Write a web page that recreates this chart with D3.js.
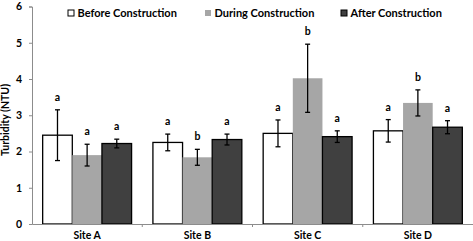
<!DOCTYPE html>
<html>
<head>
<meta charset="utf-8">
<script src="https://cdn.jsdelivr.net/npm/d3@7/dist/d3.min.js"></script>
<style>
  body { margin: 0; background: #fff; }
  svg { display: block; font-family: Lato, "Open Sans", sans-serif; font-weight: 700; }
</style>
</head>
<body>
<div id="chart"></div>
<script>
// data
const sites = ['Site A', 'Site B', 'Site C', 'Site D'];
const phases = ['Before Construction', 'During Construction', 'After Construction'];
const before = [2.45, 2.25, 2.50, 2.57];
const during = [1.90, 1.84, 4.02, 3.34];
const after = [2.22, 2.33, 2.41, 2.67];
const beforeErr = [0.70, 0.23, 0.37, 0.31];
const duringErr = [0.30, 0.22, 0.94, 0.36];
const afterErr = [0.12, 0.15, 0.16, 0.18];
const beforeSig = ['a', 'a', 'a', 'a'];
const duringSig = ['a', 'b', 'b', 'b'];
const afterSig = ['a', 'a', 'a', 'a'];
const yTicks = [0, 1, 2, 3, 4, 5, 6];

const width = 473, height = 241;
const margin = { top: 6.5, right: 0, bottom: 17, left: 32 };

const svg = d3.select('#chart').append('svg')
    .attr('width', width)
    .attr('height', height);

const x = d3.scaleBand()
    .domain(sites)
    .range([margin.left, width - margin.right])
    .paddingInner(0)
    .paddingOuter(0);

const xInner = d3.scaleBand()
    .domain(phases)
    .range([0, x.bandwidth()])
    .paddingOuter(0.36)
    .paddingInner(0);

const y = d3.scaleLinear()
    .domain([0, 6])
    .range([height - margin.bottom, margin.top]);

const fills = ['#ffffff', '#a6a6a6', '#404040'];
const strokes = ['#000000', 'none', '#000000'];

const values = [before, during, after];
const errs = [beforeErr, duringErr, afterErr];
const sigs = [beforeSig, duringSig, afterSig];

const rows = [];
sites.forEach((s, i) => {
    phases.forEach((p, j) => {
        rows.push({ site: s, phase: p, k: j, v: values[j][i], e: errs[j][i], sig: sigs[j][i] });
    });
});

// bars
svg.append('g').selectAll('rect')
    .data(rows)
    .enter().append('rect')
    .attr('x', d => x(d.site) + xInner(d.phase))
    .attr('y', d => y(d.v))
    .attr('width', xInner.bandwidth())
    .attr('height', d => y(0) - y(d.v))
    .attr('fill', d => fills[d.k])
    .attr('stroke', d => strokes[d.k])
    .attr('stroke-width', 1.3);

// axes
const yAxis = svg.append('g')
    .attr('transform', `translate(${margin.left},0)`)
    .call(d3.axisLeft(y).tickValues(yTicks).tickSize(3).tickPadding(7).tickFormat(d3.format('d')));
yAxis.selectAll('text').style('font-size', '10.5px').style('font-family', 'Lato, sans-serif').style('font-weight', 700).attr('fill', '#000');
yAxis.select('.domain').attr('stroke', '#8c8c8c');
yAxis.selectAll('.tick line').attr('stroke', '#8c8c8c');

const xAxis = svg.append('g')
    .attr('transform', `translate(0,${y(0)})`)
    .call(d3.axisBottom(x).tickSize(0).tickPadding(8));
xAxis.select('.domain').attr('stroke', '#8c8c8c');
xAxis.selectAll('text').style('font-size', '10.5px').style('font-family', 'Lato, sans-serif').style('font-weight', 700).attr('fill', '#000');

// category separators
svg.append('g').selectAll('line')
    .data(sites.slice(1))
    .enter().append('line')
    .attr('x1', d => x(d)).attr('x2', d => x(d))
    .attr('y1', y(0)).attr('y2', y(0) + 3)
    .attr('stroke', '#8c8c8c');

// error bars
const eb = svg.append('g').attr('stroke', '#000').attr('stroke-width', 1.3);
rows.forEach(d => {
    const cx = x(d.site) + xInner(d.phase) + xInner.bandwidth() / 2;
    eb.append('line').attr('x1', cx).attr('x2', cx).attr('y1', y(d.v + d.e)).attr('y2', y(d.v - d.e));
    eb.append('line').attr('x1', cx - 2.5).attr('x2', cx + 2.5).attr('y1', y(d.v + d.e)).attr('y2', y(d.v + d.e));
    eb.append('line').attr('x1', cx - 2.5).attr('x2', cx + 2.5).attr('y1', y(d.v - d.e)).attr('y2', y(d.v - d.e));
});

// significance letters
svg.append('g').selectAll('text')
    .data(rows)
    .enter().append('text')
    .attr('x', d => x(d.site) + xInner(d.phase) + xInner.bandwidth() / 2)
    .attr('y', d => y(d.v + d.e) - 9)
    .attr('text-anchor', 'middle')
    .style('font-size', '10.5px')
    .text(d => d.sig);

// y title
svg.append('text')
    .attr('transform', 'translate(9,120) rotate(-90)')
    .attr('text-anchor', 'middle')
    .style('font-size', '10.5px')
    .text('Turbidity (NTU)');

// legend
const legendX = [68, 205, 341];
const legend = svg.append('g');
phases.forEach((p, j) => {
    const g = legend.append('g').attr('transform', `translate(${legendX[j]},10)`);
    g.append('rect')
        .attr('width', 6).attr('height', 6)
        .attr('fill', fills[j])
        .attr('stroke', j === 1 ? 'none' : '#000')
        .attr('stroke-width', 1);
    g.append('text')
        .attr('x', 9.5).attr('y', 7)
        .style('font-size', '11px')
        .text(p);
});
</script>
</body>
</html>
